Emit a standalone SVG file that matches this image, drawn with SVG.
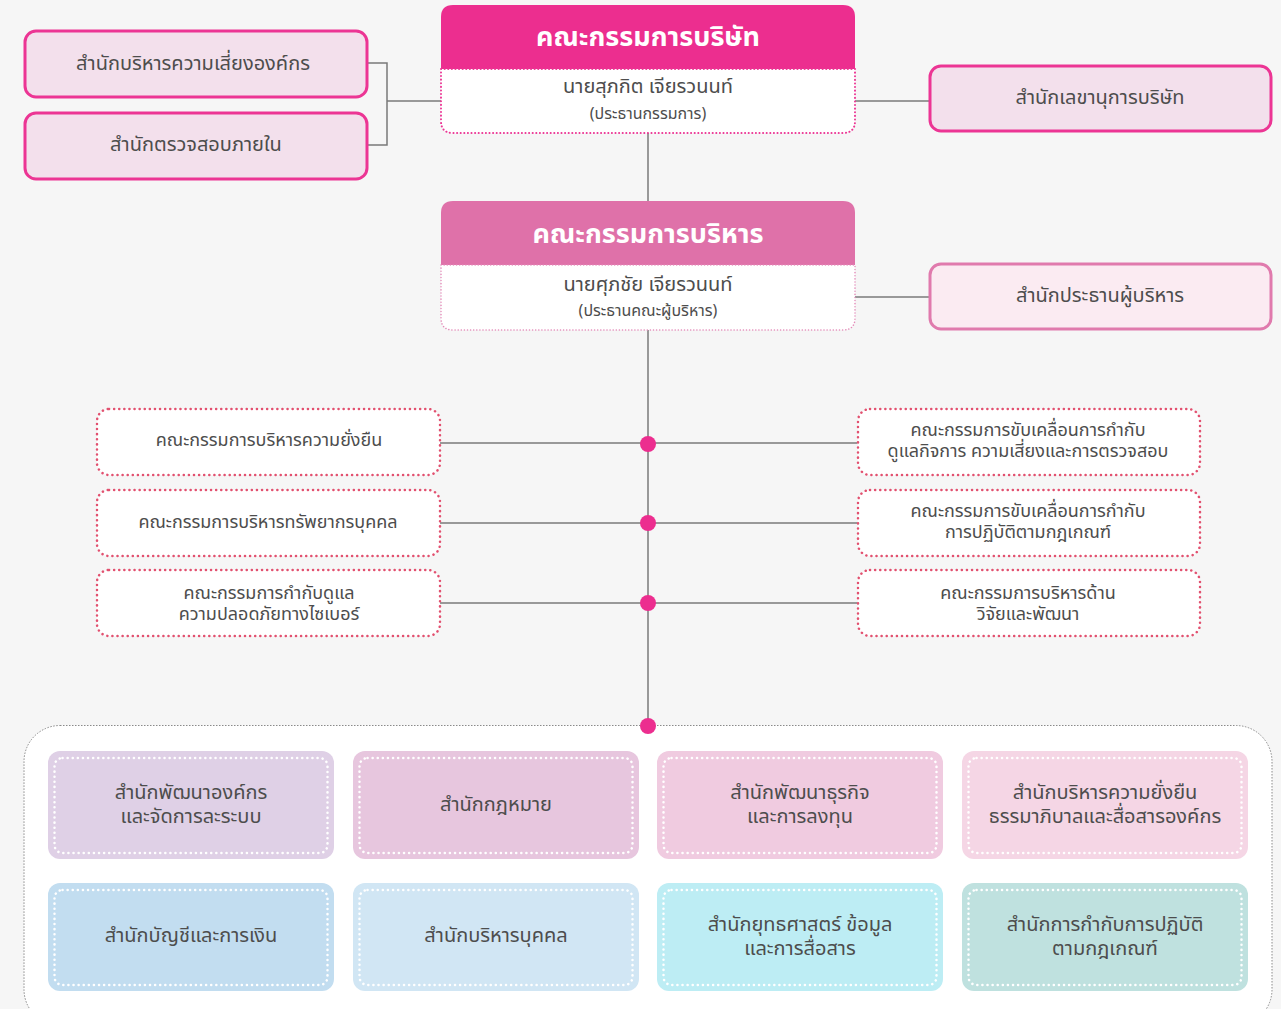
<svg xmlns="http://www.w3.org/2000/svg" width="1281" height="1009" viewBox="0 0 1281 1009">
<style>
text{font-family:"Noto Sans Thai","Noto Sans","DejaVu Sans",sans-serif;fill:#4d4d4d;text-anchor:middle}
.t20{font-size:20px}
.t17{font-size:18px}
.t15{font-size:16px}
.title{font-size:27px;font-weight:bold;fill:#ffffff}
.solid{stroke:#ec3594;stroke-width:3}
.dot{fill:#ffffff;stroke:#e2506f;stroke-width:2.5;stroke-dasharray:0.1 5;stroke-linecap:round}
.wdot{fill:none;stroke:#ffffff;stroke-width:2.5;stroke-dasharray:0.1 5;stroke-linecap:round}
.conn{stroke:#7a7a7a;stroke-width:1.5;fill:none}
</style>
<rect x="0" y="0" width="1281" height="1009" fill="#f6f6f6"/>

<g id="connectors">
<polyline class="conn" points="367,63 387,63 387,145 367,145"/>
<line class="conn" x1="387" y1="101" x2="441" y2="101"/>
<line class="conn" x1="855" y1="101" x2="929" y2="101"/>
<line class="conn" x1="855" y1="297" x2="929" y2="297"/>
<line class="conn" x1="648" y1="133" x2="648" y2="201"/>
<line class="conn" x1="648" y1="330" x2="648" y2="726"/>
<line class="conn" x1="440" y1="443" x2="857" y2="443"/>
<line class="conn" x1="440" y1="523" x2="857" y2="523"/>
<line class="conn" x1="440" y1="603" x2="857" y2="603"/>
</g>

<g id="container">
<rect x="24" y="725.5" width="1248" height="300" rx="36" fill="#ffffff" stroke="#8a8a8a" stroke-width="1" stroke-dasharray="1.5 1.5"/>
</g>

<g id="dots" fill="#ec2e8f">
<circle cx="648" cy="444" r="8"/>
<circle cx="648" cy="523" r="8"/>
<circle cx="648" cy="603" r="8"/>
<circle cx="648" cy="726" r="8"/>
</g>

<g id="risk-office">
<rect class="solid" x="25" y="31" width="342" height="66" rx="11" fill="#f3e0ec"/>
<text class="t20" x="193" y="70">สำนักบริหารความเสี่ยงองค์กร</text>
</g>
<g id="audit-office">
<rect class="solid" x="25" y="113" width="342" height="66" rx="11" fill="#f3e0ec"/>
<text class="t20" x="196" y="151">สำนักตรวจสอบภายใน</text>
</g>

<g id="board">
<path d="M441,69 V17 Q441,5 453,5 H843 Q855,5 855,17 V69 Z" fill="#ec2e8f"/>
<path d="M441,69 H855 V121 Q855,133 843,133 H453 Q441,133 441,121 Z" fill="#ffffff" stroke="#ec3594" stroke-width="2" stroke-dasharray="0.1 3.5" stroke-linecap="round"/>
<text class="title" x="648" y="46">คณะกรรมการบริษัท</text>
<text class="t20" x="648" y="93">นายสุภกิต เจียรวนนท์</text>
<text class="t15" x="648" y="119">(ประธานกรรมการ)</text>
</g>

<g id="exec">
<path d="M441,265 V213 Q441,201 453,201 H843 Q855,201 855,213 V265 Z" fill="#df71a9"/>
<path d="M441,265 H855 V318 Q855,330 843,330 H453 Q441,330 441,318 Z" fill="#ffffff" stroke="#e48bb9" stroke-width="1.5" stroke-dasharray="0.1 3" stroke-linecap="round"/>
<text class="title" x="648" y="243">คณะกรรมการบริหาร</text>
<text class="t20" x="648" y="291">นายศุภชัย เจียรวนนท์</text>
<text class="t15" x="648" y="316">(ประธานคณะผู้บริหาร)</text>
</g>

<g id="secretary-office">
<rect class="solid" x="930" y="66" width="341" height="65" rx="11" fill="#f3e0ec"/>
<text class="t20" x="1100" y="104">สำนักเลขานุการบริษัท</text>
</g>
<g id="ceo-office">
<rect x="930" y="264" width="341" height="65" rx="11" fill="#fbebf2" stroke="#e07aad" stroke-width="3"/>
<text class="t20" x="1100" y="302">สำนักประธานผู้บริหาร</text>
</g>

<g id="c-sustain">
<rect class="dot" x="97" y="409" width="343" height="66" rx="12"/>
<text class="t17" x="269" y="446">คณะกรรมการบริหารความยั่งยืน</text>
</g>
<g id="c-hr">
<rect class="dot" x="97" y="490" width="343" height="66" rx="12"/>
<text class="t17" x="268" y="528">คณะกรรมการบริหารทรัพยากรบุคคล</text>
</g>
<g id="c-cyber">
<rect class="dot" x="97" y="570" width="343" height="66" rx="12"/>
<text class="t17" x="269" y="599">คณะกรรมการกำกับดูแล</text>
<text class="t17" x="269" y="620">ความปลอดภัยทางไซเบอร์</text>
</g>
<g id="c-risk">
<rect class="dot" x="858" y="409" width="342" height="66" rx="12"/>
<text class="t17" x="1028" y="436">คณะกรรมการขับเคลื่อนการกำกับ</text>
<text class="t17" x="1028" y="457">ดูแลกิจการ ความเสี่ยงและการตรวจสอบ</text>
</g>
<g id="c-compliance">
<rect class="dot" x="858" y="490" width="342" height="66" rx="12"/>
<text class="t17" x="1028" y="517">คณะกรรมการขับเคลื่อนการกำกับ</text>
<text class="t17" x="1028" y="538">การปฏิบัติตามกฎเกณฑ์</text>
</g>
<g id="c-rnd">
<rect class="dot" x="858" y="570" width="342" height="66" rx="12"/>
<text class="t17" x="1028" y="599">คณะกรรมการบริหารด้าน</text>
<text class="t17" x="1028" y="620">วิจัยและพัฒนา</text>
</g>

<g id="o-orgdev">
<rect x="48" y="751" width="286" height="108" rx="12" fill="#dfd0e6"/>
<rect class="wdot" x="54.5" y="758" width="273" height="95" rx="8"/>
<text class="t20" x="191" y="799">สำนักพัฒนาองค์กร</text>
<text class="t20" x="191" y="823">และจัดการละระบบ</text>
</g>
<g id="o-legal">
<rect x="353" y="751" width="286" height="108" rx="12" fill="#e7c6de"/>
<rect class="wdot" x="359.5" y="758" width="273" height="95" rx="8"/>
<text class="t20" x="496" y="811">สำนักกฎหมาย</text>
</g>
<g id="o-bizdev">
<rect x="657" y="751" width="286" height="108" rx="12" fill="#f0cbe0"/>
<rect class="wdot" x="663.5" y="758" width="273" height="95" rx="8"/>
<text class="t20" x="800" y="799">สำนักพัฒนาธุรกิจ</text>
<text class="t20" x="800" y="823">และการลงทุน</text>
</g>
<g id="o-sustain">
<rect x="962" y="751" width="286" height="108" rx="12" fill="#f5d6e5"/>
<rect class="wdot" x="968.5" y="758" width="273" height="95" rx="8"/>
<text class="t20" x="1105" y="799">สำนักบริหารความยั่งยืน</text>
<text class="t20" x="1105" y="823">ธรรมาภิบาลและสื่อสารองค์กร</text>
</g>
<g id="o-finance">
<rect x="48" y="883" width="286" height="108" rx="12" fill="#c2ddf0"/>
<rect class="wdot" x="54.5" y="890" width="273" height="95" rx="8"/>
<text class="t20" x="191" y="942">สำนักบัญชีและการเงิน</text>
</g>
<g id="o-hr">
<rect x="353" y="883" width="286" height="108" rx="12" fill="#d1e6f4"/>
<rect class="wdot" x="359.5" y="890" width="273" height="95" rx="8"/>
<text class="t20" x="496" y="942">สำนักบริหารบุคคล</text>
</g>
<g id="o-strategy">
<rect x="657" y="883" width="286" height="108" rx="12" fill="#bdedf4"/>
<rect class="wdot" x="663.5" y="890" width="273" height="95" rx="8"/>
<text class="t20" x="800" y="931">สำนักยุทธศาสตร์ ข้อมูล</text>
<text class="t20" x="800" y="955">และการสื่อสาร</text>
</g>
<g id="o-compliance">
<rect x="962" y="883" width="286" height="108" rx="12" fill="#bfe1df"/>
<rect class="wdot" x="968.5" y="890" width="273" height="95" rx="8"/>
<text class="t20" x="1105" y="931">สำนักการกำกับการปฏิบัติ</text>
<text class="t20" x="1105" y="955">ตามกฎเกณฑ์</text>
</g>
</svg>
